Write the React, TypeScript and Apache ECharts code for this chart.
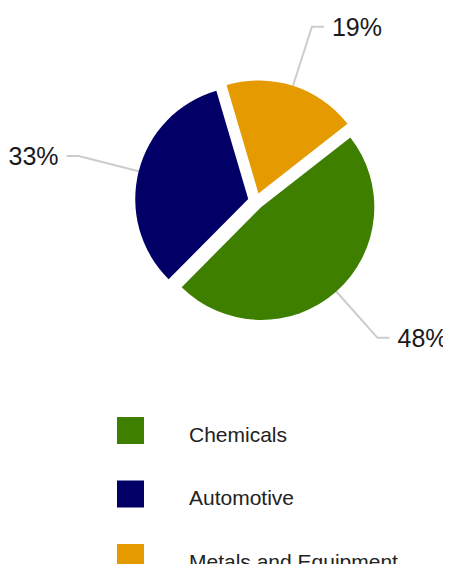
import React, { useEffect, useRef } from "react";
import * as echarts from "echarts";

const categories = ["Chemicals", "Automotive", "Metals and Equipment"];
const values = [48, 33, 19];
const colors = ["#3F7F00", "#020066", "#E59A00"];

export default function App() {
  const ref = useRef<HTMLDivElement>(null);
  useEffect(() => {
    if (!ref.current) return;
    const chart = echarts.init(ref.current, undefined, { renderer: "svg" });
    chart.setOption({
      animation: false,
      textStyle: { fontFamily: "Liberation Sans, Arial, sans-serif" },
      legend: {
        orient: "vertical",
        left: 117,
        top: 417,
        height: 250,
        padding: 0,
        itemWidth: 27,
        itemHeight: 27,
        itemGap: 36,
        icon: "rect",
        selectedMode: false,
        data: categories,
        formatter: (name: string) => `{t|${name}}`,
        textStyle: {
          color: "#222",
          padding: [0, 0, 0, 40],
          rich: {
            t: {
              fontSize: 21,
              color: "#222",
              padding: [7, 0, 0, 0],
              fontFamily: "Liberation Sans, Arial, sans-serif",
            },
          },
        },
      },
      series: [
        {
          type: "pie",
          center: [256, 201],
          radius: 113,
          startAngle: 38,
          clockwise: true,
          selectedMode: "multiple",
          selectedOffset: 8,
          avoidLabelOverlap: false,
          emphasis: { disabled: true },
          label: {
            show: true,
            position: "outside",
            formatter: "{d}%",
            fontSize: 25,
            color: "#1a1a1a",
            distanceToLabelLine: 8,
            fontFamily: "Liberation Sans, Arial, sans-serif",
          },
          labelLine: {
            show: true,
            length: 62,
            length2: 12,
            lineStyle: { color: "#cccccc", width: 2 },
          },
          data: categories.map((name, i) => ({
            name,
            value: values[i],
            selected: true,
            itemStyle: { color: colors[i] },
          })),
        },
      ],
    });
    return () => chart.dispose();
  }, []);
  return <div ref={ref} style={{ width: 451, height: 572, margin: -8 }} />;
}
